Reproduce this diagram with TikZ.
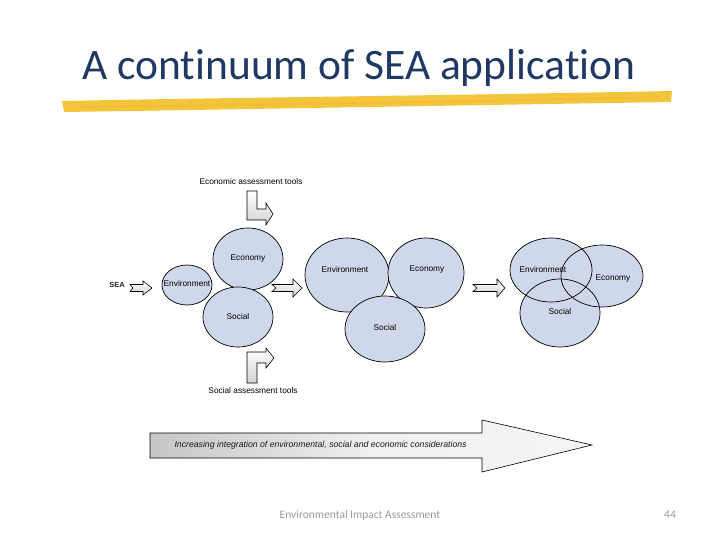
\documentclass[tikz,border=0pt]{standalone}
\usepackage{fontspec}
\setmainfont{Liberation Sans}
\newfontfamily\titlefont[Ligatures={NoCommon}]{Carlito}
\usetikzlibrary{shapes.geometric}
\definecolor{titleblue}{HTML}{203864}
\definecolor{brush}{HTML}{F2C63C}
\definecolor{blobfill}{HTML}{CFD7EB}
\tikzset{
  blob/.style={ellipse, draw=black, line width=0.7pt, inner sep=0pt},
  blobtext/.style={font=\fontsize{8.3}{9}\selectfont, text=black},
  toollabel/.style={font=\fontsize{8.3}{9}\selectfont, text=black},
  blockarrow/.style={draw=black, line width=0.6pt, top color=white, bottom color=gray!35, line join=miter},
}
\begin{document}
\begin{tikzpicture}[x=1pt,y=-1pt]
\useasboundingbox (0,0) rectangle (720,540);
% title
\node[anchor=base, font=\titlefont\fontsize{43.5}{50}\selectfont, text=titleblue] (title) at (359,80) {A continuum of SEA application};
% brush stroke
\fill[brush] (62,101) .. controls (200,98) and (420,96) .. (672,91) -- (671,102)
  .. controls (420,106) and (200,110) .. (64,112) -- cycle;
\fill[brush!85!orange] (80,106) .. controls (250,104) and (450,101) .. (660,96) -- (660,98)
  .. controls (450,103) and (250,106) .. (80,108) -- cycle;

% tool labels
\node[toollabel] (econtools) at (251,182) {Economic assessment tools};
\node[toollabel] (soctools) at (253,391) {Social assessment tools};
% bent arrows
\draw[blockarrow] (247,191) -- (257,191) -- (257,209) -- (266,209) -- (266,203) -- (273,214) -- (266,225) -- (266,220) -- (247,220) -- cycle;
\draw[blockarrow] (247,383) -- (257,383) -- (257,363) -- (266,363) -- (266,368) -- (274,358) -- (266,348) -- (266,352) -- (247,352) -- cycle;

% SEA
\node[font=\fontsize{7.5}{9}\selectfont\bfseries, text=black!85] (sea) at (117,285) {SEA};
% small arrows
\draw[blockarrow] (130,284.5) -- (143,284.5) -- (143,281) -- (152,288) -- (143,295) -- (143,291.5) -- (130,291.5) -- (133,288) -- cycle;
\draw[blockarrow] (272,284.5) -- (293,284.5) -- (293,279) -- (302,288) -- (293,297) -- (293,291.5) -- (272,291.5) -- (276,288) -- cycle;
\draw[blockarrow] (473,284.5) -- (497,284.5) -- (497,279) -- (505,288) -- (497,297) -- (497,291.5) -- (473,291.5) -- (477,288) -- cycle;

% group 1
\node[blob, fill=blobfill, minimum width=70pt, minimum height=62pt] (g1eco) at (248,259) {};
\node[blob, fill=blobfill, minimum width=50pt, minimum height=40pt] (g1env) at (187,285) {};
\node[blob, fill=blobfill, minimum width=70pt, minimum height=60pt] (g1soc) at (238,317) {};
\node[blobtext] at (g1eco) {Economy};
\node[blobtext] at (187,284) {Environment};
\node[blobtext] at (g1soc) {Social};

% group 2
\node[blob, fill=blobfill, minimum width=84pt, minimum height=74pt] (g2env) at (347,275) {};
\node[blob, fill=blobfill, minimum width=76pt, minimum height=70pt] (g2eco) at (426,273) {};
\node[blob, fill=blobfill, minimum width=80pt, minimum height=66pt] (g2soc) at (385,329) {};
\node[blobtext] at (345,270) {Environment};
\node[blobtext] at (427,270) {Economy};
\node[blobtext] at (385,328) {Social};

% group 3 (overlapping)
\fill[blobfill] (551,270) ellipse (41pt and 32pt);
\fill[blobfill] (602,276) ellipse (41pt and 31pt);
\fill[blobfill] (560,313) ellipse (40pt and 34pt);
\node[blob, minimum width=82pt, minimum height=64pt] (g3env) at (551,270) {};
\node[blob, minimum width=82pt, minimum height=62pt] (g3eco) at (602,276) {};
\node[blob, minimum width=80pt, minimum height=68pt] (g3soc) at (560,313) {};
\node[blobtext] at (543,270) {Environment};
\node[blobtext] at (613,279) {Economy};
\node[blobtext] at (560,312) {Social};

% big arrow
\draw[draw=black, line width=0.6pt, left color=gray!45, right color=gray!8, middle color=gray!12]
  (150,433) -- (482,433) -- (482,420) -- (592,445) -- (482,472) -- (482,458) -- (150,458) -- cycle;
\node[font=\fontsize{8.7}{10}\selectfont\itshape, text=black!90, anchor=west] (bigtext) at (171,445) {Increasing integration of environmental, social and economic considerations};

% footer
\node[font=\titlefont\fontsize{11.5}{13}\selectfont, text=gray!80] (footer) at (360,515) {Environmental Impact Assessment};
\node[font=\titlefont\fontsize{11.5}{13}\selectfont, text=gray!80] (pagenum) at (670,515) {44};
\end{tikzpicture}
\end{document}
